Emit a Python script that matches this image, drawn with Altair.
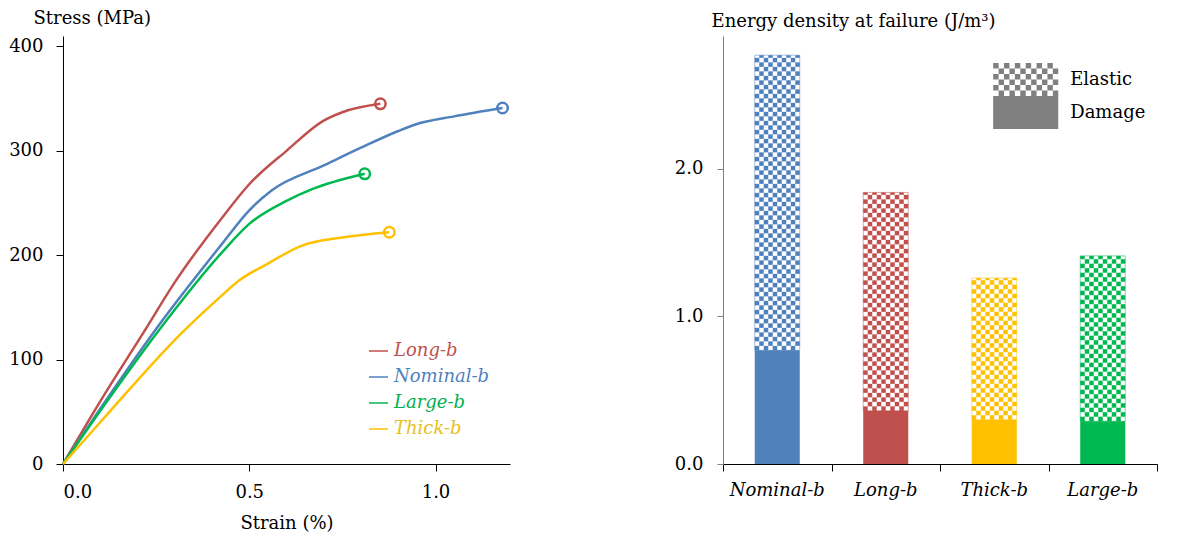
import altair as alt
import pandas as pd

FONT = "DejaVu Serif"

# ---------------- left panel data (stress-strain curves) ----------------
series = ["Long-b", "Nominal-b", "Large-b", "Thick-b"]
series_colors = ["#C0504D", "#4F81BD", "#00B850", "#FFC000"]
text_colors = ["#C0504D", "#4F81BD", "#00B050", "#E6C020"]

long_strain = [0.0, 0.1, 0.218, 0.3, 0.425, 0.5, 0.6, 0.7, 0.75, 0.852]
long_stress = [0, 60, 127, 174, 235, 268, 300, 329, 337, 345]

nominal_strain = [0.0, 0.1, 0.245, 0.425, 0.5, 0.56, 0.7, 0.8, 0.9, 0.944, 1.05, 1.18]
nominal_stress = [0, 53, 127, 210, 243, 262, 286, 303, 319, 325, 333, 341]

large_strain = [0.0, 0.1, 0.255, 0.425, 0.5, 0.6, 0.667, 0.81]
large_stress = [0, 51, 127, 202, 230, 252, 263, 278]

thick_strain = [0.0, 0.1, 0.323, 0.425, 0.47, 0.55, 0.64, 0.75, 0.876]
thick_stress = [0, 40, 127, 161, 175, 192, 209, 217, 222]

x_ticks = [0.0, 0.5, 1.0]
y_ticks = [0, 100, 200, 300, 400]

# ---------------- right panel data (energy density) ----------------
categories = ["Nominal-b", "Long-b", "Thick-b", "Large-b"]
bar_colors = ["#4F81BD", "#C0504D", "#FFC000", "#00B050"]
total_energy = [2.77, 1.84, 1.26, 1.41]
damage_energy = [0.77, 0.36, 0.30, 0.29]
energy_ticks = [0.0, 1.0, 2.0]
legend_labels = ["Elastic", "Damage"]

# ---------------- build tables ----------------
curve_rows = []
for name, xs, ys in [("Long-b", long_strain, long_stress),
                     ("Nominal-b", nominal_strain, nominal_stress),
                     ("Large-b", large_strain, large_stress),
                     ("Thick-b", thick_strain, thick_stress)]:
    for i, (a, b) in enumerate(zip(xs, ys)):
        curve_rows.append({"series": name, "strain": a, "stress": b, "idx": i})
curves = pd.DataFrame(curve_rows)
ends = curves.sort_values("idx").groupby("series").tail(1)

color_scale = alt.Scale(domain=series, range=series_colors)

xL = alt.X("strain:Q", scale=alt.Scale(domain=[0, 1.2], nice=False),
           axis=alt.Axis(values=x_ticks, format=".1f", title="Strain (%)", tickSize=7,
                         labelPadding=12, domainColor="black", tickColor="black",
                         titleY=64, titleBaseline="alphabetic"))
yL = alt.Y("stress:Q", scale=alt.Scale(domain=[0, 410], nice=False),
           axis=alt.Axis(values=y_ticks, title="Stress (MPa)", tickSize=7, labelPadding=13,
                         domainColor="black", tickColor="black", titleAngle=0,
                         titleAlign="left", titleX=-30, titleY=-13,
                         titleBaseline="alphabetic"))

lines = alt.Chart(curves).mark_line(strokeWidth=2.5, interpolate="monotone").encode(
    x=xL, y=yL, color=alt.Color("series:N", scale=color_scale, legend=None), order="idx:Q")
points = alt.Chart(ends).mark_point(shape="circle", filled=False, size=110,
                                    strokeWidth=2.5, opacity=1).encode(
    x="strain:Q", y="stress:Q", color=alt.Color("series:N", scale=color_scale, legend=None))

left_layers = [lines, points]
for i, s in enumerate(series):
    d = pd.DataFrame({"series": [s]})
    ypos = 315 + 26 * i
    left_layers.append(alt.Chart(d).mark_rule(color=series_colors[i], strokeWidth=1.5).encode(
        x=alt.value(306), x2=alt.value(325), y=alt.value(ypos)))
    left_layers.append(alt.Chart(d).mark_text(align="left", baseline="middle", fontSize=18,
                                              fontStyle="italic", color=text_colors[i]).encode(
        x=alt.value(331), y=alt.value(ypos), text="series:N"))

left = alt.layer(*left_layers).properties(width=447, height=428)

# ---------------- right panel ----------------
W_R, H_R = 434, 428
Y_MAX = 2.9
CELL_Y = 4.5 / (H_R / Y_MAX)      # checker cell height in data units (~4.5 px)
HALF_W = 0.2075                   # half bar width in category units
N_COLS = 10
CELL_X = 2 * HALF_W / N_COLS

bars = pd.DataFrame({"cat": categories, "total": total_energy, "damage": damage_energy,
                     "pos": [i + 0.5 for i in range(len(categories))]})

xs_lin = alt.Scale(domain=[0, len(categories)], nice=False, zero=False)
ys_lin = alt.Scale(domain=[0, Y_MAX], nice=False)
bar_color = alt.Color("cat:N", scale=alt.Scale(domain=categories, range=bar_colors), legend=None)

damage = alt.Chart(bars).transform_calculate(
    x0=f"datum.pos - {HALF_W}", x1=f"datum.pos + {HALF_W}", zero="0").mark_rect().encode(
    x=alt.X("x0:Q", scale=xs_lin,
            axis=alt.Axis(title=None, values=list(range(len(categories) + 1)), labels=False,
                          tickSize=7, domainColor="black", tickColor="black")),
    x2="x1:Q",
    y=alt.Y("zero:Q", scale=ys_lin,
            axis=alt.Axis(values=energy_ticks, format=".1f",
                          title="Energy density at failure (J/m³)", tickSize=6, labelPadding=14,
                          domainColor="#808080", tickColor="#808080", titleAngle=0,
                          titleAlign="left", titleX=-12, titleY=-10,
                          titleBaseline="alphabetic")),
    y2="damage:Q",
    color=bar_color,
)

elastic = alt.Chart(bars).transform_calculate(
    cols=f"sequence(0, {N_COLS})").transform_flatten(["cols"], as_=["col"]).transform_calculate(
    rows=f"sequence(0, ceil((datum.total - datum.damage) / {CELL_Y}))").transform_flatten(
    ["rows"], as_=["row"]).transform_filter("(datum.col + datum.row) % 2 == 0").transform_calculate(
    x0=f"datum.pos - {HALF_W} + datum.col * {CELL_X}",
    x1=f"datum.pos - {HALF_W} + (datum.col + 1) * {CELL_X}",
    y0=f"datum.damage + datum.row * {CELL_Y}",
    y1=f"min(datum.total, datum.damage + (datum.row + 1) * {CELL_Y})").mark_rect().encode(
    x="x0:Q", x2="x1:Q", y="y0:Q", y2="y1:Q", color=bar_color)

outline = alt.Chart(bars).transform_calculate(
    x0=f"datum.pos - {HALF_W}", x1=f"datum.pos + {HALF_W}").mark_rect(
    fillOpacity=0, strokeWidth=1, strokeOpacity=0.5).encode(
    x="x0:Q", x2="x1:Q", y="damage:Q", y2="total:Q",
    stroke=alt.Color("cat:N", scale=alt.Scale(domain=categories, range=bar_colors), legend=None))

cat_labels = alt.Chart(bars).mark_text(baseline="top", fontSize=18, fontStyle="italic",
                                       color="black").encode(
    x="pos:Q", y=alt.value(H_R + 18), text="cat:N")

# legend (Elastic checker swatch + Damage swatch), placed in the panel's upper right
LX0, LW = 2.49, 0.6                       # x start / width of swatches
LY_TOP = Y_MAX - 27 / (H_R / Y_MAX)
LY_MID = Y_MAX - 60 / (H_R / Y_MAX)
LY_BOT = Y_MAX - 93 / (H_R / Y_MAX)
leg = pd.DataFrame({"label": legend_labels[:1]})
legend_cells = alt.Chart(leg).transform_calculate(
    cols="sequence(0, 12)").transform_flatten(["cols"], as_=["c"]).transform_calculate(
    rows="sequence(0, 6)").transform_flatten(["rows"], as_=["r"]).transform_filter(
    "(datum.c + datum.r) % 2 == 0").transform_calculate(
    x0=f"{LX0} + datum.c * {LW} / 12", x1=f"{LX0} + (datum.c + 1) * {LW} / 12",
    y0=f"{LY_TOP} - datum.r * {(LY_TOP - LY_MID) / 6}",
    y1=f"{LY_TOP} - (datum.r + 1) * {(LY_TOP - LY_MID) / 6}").mark_rect(color="#808080").encode(
    x="x0:Q", x2="x1:Q", y="y0:Q", y2="y1:Q")

swatch = alt.Chart(pd.DataFrame({"label": legend_labels[1:], "x0": [LX0], "x1": [LX0 + LW],
                                 "y0": [LY_MID], "y1": [LY_BOT]})).mark_rect(
    color="#808080").encode(x="x0:Q", x2="x1:Q", y="y0:Q", y2="y1:Q")

leg_text = alt.Chart(pd.DataFrame({
    "label": legend_labels, "lx": [LX0 + LW + 0.11] * 2,
    "ly": [(LY_TOP + LY_MID) / 2, (LY_MID + LY_BOT) / 2]})).mark_text(
    align="left", baseline="middle", fontSize=18, color="black").encode(
    x="lx:Q", y="ly:Q", text="label:N")

right = alt.layer(damage, elastic, outline, cat_labels, legend_cells, swatch, leg_text).properties(
    width=W_R, height=H_R)

chart = alt.hconcat(left, right, spacing=161).properties(
    padding={"left": 0, "top": 1, "right": 5, "bottom": 0}
).configure(font=FONT).configure_axis(
    labelFont=FONT, titleFont=FONT, labelFontSize=18, titleFontSize=18,
    titleFontWeight="normal", grid=False, labelColor="black", titleColor="black"
).configure_view(stroke=None)

chart.save("out.html", embed_options={"renderer": "svg", "actions": False})
